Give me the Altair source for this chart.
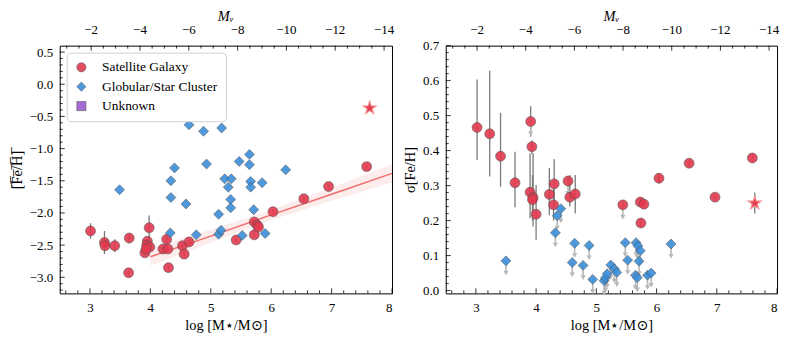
import altair as alt
import pandas as pd
import numpy as np

FONT = "Liberation Serif, Times New Roman, DejaVu Serif, serif"
RED = "#e3394e"
BLUE = "#3b8fdb"
PURPLE = "#9a5bd0"
EDGE = "#4d4d4d"
ERRC = "#7a7a7a"
ARROWC = "#b8b8b8"
STAR_PATH = ("M0,-1L0.2245,-0.309L0.951,-0.309L0.363,0.118L0.588,0.809L0,0.382"
             "L-0.588,0.809L-0.363,0.118L-0.951,-0.309L-0.2245,-0.309Z")

TYPES = ["Satellite Galaxy", "Globular/Star Cluster", "Unknown"]

# ---------------- left panel: mean [Fe/H] ----------------
sat_logm_L = [3.01, 3.24, 3.25, 3.41, 3.65, 3.64, 3.98, 3.95, 3.94, 3.99, 3.91, 3.93,
              4.27, 4.21, 4.29, 4.30, 4.53, 4.56, 4.64, 5.42, 5.72, 5.72, 5.77, 5.79,
              6.03, 6.54, 6.95, 7.58]
sat_feh_L = [-2.28, -2.46, -2.51, -2.51, -2.39, -2.93, -2.23, -2.44, -2.50, -2.53, -2.62, -2.56,
             -2.41, -2.56, -2.56, -2.85, -2.51, -2.64, -2.45, -2.42, -2.14, -2.34, -2.19, -2.22,
             -1.98, -1.78, -1.59, -1.28]
sat_err_L = [0.12, 0.18, 0.04, 0.10, 0.08, 0.04, 0.19, 0.04, 0.04, 0.04, 0.04, 0.04,
             0.06, 0.04, 0.04, 0.04, 0.04, 0.04, 0.04, 0.03, 0.03, 0.03, 0.03, 0.03,
             0.03, 0.03, 0.03, 0.03]
gc_logm_L = [3.49, 4.33, 4.34, 4.34, 4.40, 4.59, 4.64, 4.76, 4.88, 4.93, 5.13, 5.13,
             5.17, 5.18, 5.23, 5.29, 5.33, 5.33, 5.34, 5.47, 5.52, 5.64, 5.64, 5.66,
             5.66, 5.71, 5.85, 5.90, 6.24]
gc_feh_L = [-1.64, -2.31, -1.50, -1.76, -1.30, -1.86, -0.63, -2.34, -0.73, -1.24, -2.02, -2.33,
            -2.27, -0.68, -1.47, -1.60, -1.79, -1.92, -1.47, -1.20, -2.35, -1.09, -1.25, -1.51,
            -1.60, -1.95, -1.53, -2.32, -1.33]
star_logm_L = [7.63]
star_feh_L = [-0.37]

fit_x = [4.0, 5.0, 6.0, 7.0, 8.0]
fit_y = [-2.68, -2.36, -2.03, -1.71, -1.385]
fit_lo = [-2.82, -2.46, -2.11, -1.81, -1.525]
fit_hi = [-2.54, -2.26, -1.95, -1.61, -1.245]

# ---------------- right panel: sigma [Fe/H] ----------------
sat_logm_R = [3.02, 3.23, 3.41, 3.65, 3.91, 3.93, 3.90, 3.95, 3.94, 4.00, 4.22, 4.30,
              4.29, 4.53, 4.56, 4.65, 5.44, 5.73, 5.79, 5.74, 6.04, 6.54, 6.97, 7.59]
sat_sig_R = [0.466, 0.448, 0.384, 0.308, 0.483, 0.411, 0.281, 0.266, 0.260, 0.218, 0.275, 0.305,
             0.245, 0.313, 0.267, 0.276, 0.245, 0.253, 0.247, 0.193, 0.321, 0.364, 0.267, 0.379]
sat_lo_R = [0.373, 0.326, 0.297, 0.238, 0.440, 0.390, 0.207, 0.183, 0.200, 0.145, 0.215, 0.240,
            0.200, 0.300, 0.240, 0.220, 0.235, 0.240, 0.235, 0.180, 0.306, 0.354, 0.260, 0.368]
sat_hi_R = [0.603, 0.628, 0.508, 0.397, 0.527, 0.430, 0.392, 0.392, 0.330, 0.302, 0.350, 0.375,
            0.290, 0.325, 0.330, 0.330, 0.255, 0.265, 0.260, 0.205, 0.336, 0.374, 0.275, 0.390]
sat_limit_R = [False, False, False, False, True, False, False, False, False, False, False, False,
               False, True, False, False, True, False, False, False, False, False, False, False]
gc_logm_R = [3.50, 4.32, 4.35, 4.41, 4.60, 4.64, 4.78, 4.88, 4.94, 5.13, 5.15, 5.18, 5.24,
             5.30, 5.34, 5.48, 5.52, 5.65, 5.66, 5.68, 5.69, 5.71, 5.73, 5.85, 5.91, 6.24]
gc_sig_R = [0.085, 0.165, 0.214, 0.234, 0.080, 0.135, 0.072, 0.129, 0.032, 0.028, 0.036, 0.048,
            0.073, 0.062, 0.052, 0.137, 0.087, 0.044, 0.137, 0.037, 0.128, 0.084, 0.114, 0.044,
            0.050, 0.133]
star_logm_R = [7.63]
star_sig_R = [0.25]
star_lo_R = [0.22]
star_hi_R = [0.28]
ARROW_LEN = 0.035

# ---------------- axes ----------------
W1, W2, H = 334, 333, 249
X_DOM = [2.5, 8.0]
MV_ZERO_LOGM = 2.212   # log M at M_V = 0
DEX_PER_MAG = 0.404
MV_MAJOR = [-2, -4, -6, -8, -10, -12, -14]
MV_LABELS = ["−2", "−4", "−6", "−8", "−10", "−12", "−14"]
MV_MINOR = [float(v) for v in np.arange(-14.0, -0.99, 0.5) if v not in MV_MAJOR]
X_MAJOR = [3, 4, 5, 6, 7, 8]


def rng(a, b, step):
    return [round(float(v), 3) for v in np.arange(a, b + step / 2, step)]


def mv_to_logm(mv):
    return round(MV_ZERO_LOGM - DEX_PER_MAG * mv, 4)


X_MINOR = [v for v in rng(2.6, 8.0, 0.2) if abs(v - round(v)) > 1e-6]
MVT_MAJOR = [mv_to_logm(m) for m in MV_MAJOR]
MVT_MINOR = [mv_to_logm(m) for m in MV_MINOR]

X_AXIS = alt.Axis(values=X_MAJOR, ticks=False, domain=False, grid=False,
                  title="log [M⋆/M⊙]", labelPadding=8, titlePadding=4, format="d")


def y_axis(values, title):
    return alt.Axis(values=values, ticks=False, domain=False, grid=False, title=title,
                    labelPadding=7, titlePadding=5, format=".1f")


class Panel:
    def __init__(self, ydom, yaxis):
        self.ydom = ydom
        self.yaxis = yaxis

    def X(self, field):
        return alt.X(field, scale=alt.Scale(domain=X_DOM, nice=False, zero=False), axis=X_AXIS)

    def Y(self, field):
        return alt.Y(field, scale=alt.Scale(domain=self.ydom, nice=False, zero=False),
                     axis=self.yaxis)


def tick_layers(p, y_major, y_minor):
    layers = []
    for vals, size, where in [(X_MAJOR, 5, "bottom"), (X_MINOR, 3, "bottom"),
                              (MVT_MAJOR, 5, "top"), (MVT_MINOR, 3, "top")]:
        d = pd.DataFrame({"t": vals, "edge": p.ydom[0] if where == "bottom" else p.ydom[1]})
        layers.append(alt.Chart(d).mark_rule(color="black", strokeWidth=0.8).encode(
            x=p.X("t:Q"), y=p.Y("edge:Q"),
            y2=alt.value(H - size if where == "bottom" else size)))
    for vals, size in [(y_major, 5), (y_minor, 3)]:
        d = pd.DataFrame({"t": vals, "edge": X_DOM[0]})
        layers.append(alt.Chart(d).mark_rule(color="black", strokeWidth=0.8).encode(
            x=p.X("edge:Q"), x2=alt.value(size), y=p.Y("t:Q")))
    # top (M_V) tick labels
    d = pd.DataFrame({"t": MVT_MAJOR, "lab": MV_LABELS, "edge": p.ydom[1]})
    layers.append(alt.Chart(d).mark_text(font=FONT, fontSize=13, dy=-16, color="black",
                                         baseline="middle").encode(
        x=p.X("t:Q"), y=p.Y("edge:Q"), text="lab:N"))
    return layers


def pts_frame(logm, val, typ):
    return pd.DataFrame({"logm": logm, "val": val, "type": typ})


def point_layer(p, df, with_legend):
    if with_legend:
        lg = alt.Legend(title=None, orient="top-left", offset=7, padding=8,
                        fillColor="white", strokeColor="#d0d0d0", cornerRadius=4,
                        labelFont=FONT, labelFontSize=13.5, labelColor="black",
                        symbolSize=85, symbolStrokeColor=EDGE, symbolStrokeWidth=0.6,
                        labelOffset=14, rowPadding=4.5)
    else:
        lg = None
    return alt.Chart(df).mark_point(filled=True, size=100, stroke=EDGE, strokeWidth=0.6,
                                    opacity=0.9).encode(
        x=p.X("logm:Q"), y=p.Y("val:Q"),
        color=alt.Color("type:N", scale=alt.Scale(domain=TYPES, range=[RED, BLUE, PURPLE]),
                        legend=lg),
        shape=alt.Shape("type:N", scale=alt.Scale(domain=TYPES,
                                                  range=["circle", "diamond", "square"]),
                        legend=lg))


def star_layer(p, logm, val):
    return alt.Chart(pd.DataFrame({"logm": logm, "val": val})).mark_point(
        filled=True, shape=STAR_PATH, size=180, color=RED, stroke="#f58a8a", strokeWidth=1.2,
        opacity=1
    ).encode(x=p.X("logm:Q"), y=p.Y("val:Q"))


MV_TITLE = alt.TitleParams("Mᵥ", font=FONT, fontSize=14.5, fontStyle="italic",
                           fontWeight="normal", anchor="middle", offset=-1, color="black")

# ---------------- left panel ----------------
YL_DOM = [-3.25, 0.6]
YL_MAJOR = rng(-3.0, 0.5, 0.5)
YL_MINOR = [v for v in rng(-3.2, 0.5, 0.1) if abs(v * 2 - round(v * 2)) > 1e-6]
pL = Panel(YL_DOM, y_axis(YL_MAJOR, "[̅F̅e̅/̅H̅]̅"))
dfL = pd.concat([pts_frame(sat_logm_L, sat_feh_L, TYPES[0]),
                 pts_frame(gc_logm_L, gc_feh_L, TYPES[1])], ignore_index=True)
errL = pd.DataFrame({"logm": sat_logm_L,
                     "lo": [v - e for v, e in zip(sat_feh_L, sat_err_L)],
                     "hi": [v + e for v, e in zip(sat_feh_L, sat_err_L)]})
fitL = pd.DataFrame({"logm": fit_x, "val": fit_y, "lo": fit_lo, "hi": fit_hi})

bandL = alt.Chart(fitL).mark_area(color="#f7b5b5", opacity=0.25).encode(
    x=pL.X("logm:Q"), y=pL.Y("lo:Q"), y2="hi:Q")
lineL = alt.Chart(fitL).mark_line(color="#f26d6d", strokeWidth=1.5).encode(
    x=pL.X("logm:Q"), y=pL.Y("val:Q"))
ebL = alt.Chart(errL).mark_rule(color=ERRC, strokeWidth=1.3).encode(
    x=pL.X("logm:Q"), y=pL.Y("lo:Q"), y2="hi:Q")

left = alt.layer(
    bandL, lineL, ebL,
    point_layer(pL, dfL, True),
    star_layer(pL, star_logm_L, star_feh_L),
    *tick_layers(pL, YL_MAJOR, YL_MINOR),
).properties(width=W1, height=H, title=MV_TITLE)

# ---------------- right panel ----------------
YR_DOM = [-0.008, 0.7]
YR_MAJOR = rng(0.0, 0.7, 0.1)
YR_MINOR = [v for v in rng(0.0, 0.7, 0.02) if abs(v * 10 - round(v * 10)) > 1e-6]
pR = Panel(YR_DOM, y_axis(YR_MAJOR, "σ[Fe/H]"))
dfR = pd.concat([pts_frame(sat_logm_R, sat_sig_R, TYPES[0]),
                 pts_frame(gc_logm_R, gc_sig_R, TYPES[1])], ignore_index=True)
errR = pd.DataFrame({"logm": sat_logm_R + star_logm_R, "lo": sat_lo_R + star_lo_R,
                     "hi": sat_hi_R + star_hi_R})
lim_logm = gc_logm_R + [m for m, f in zip(sat_logm_R, sat_limit_R) if f]
lim_val = gc_sig_R + [s for s, f in zip(sat_sig_R, sat_limit_R) if f]
arrR = pd.DataFrame({"logm": lim_logm, "val": lim_val,
                     "end": [v - ARROW_LEN for v in lim_val]})

ebR = alt.Chart(errR).mark_rule(color=ERRC, strokeWidth=1.3).encode(
    x=pR.X("logm:Q"), y=pR.Y("lo:Q"), y2="hi:Q")
arrShaftR = alt.Chart(arrR).mark_rule(color=ARROWC, strokeWidth=1.6).encode(
    x=pR.X("logm:Q"), y=pR.Y("val:Q"), y2="end:Q")
arrHeadR = alt.Chart(arrR).mark_point(shape="triangle-down", filled=True, size=28,
                                      color=ARROWC, opacity=1).encode(
    x=pR.X("logm:Q"), y=pR.Y("end:Q"))

right = alt.layer(
    ebR, arrShaftR, arrHeadR,
    point_layer(pR, dfR, False),
    star_layer(pR, star_logm_R, star_sig_R),
    *tick_layers(pR, YR_MAJOR, YR_MINOR),
).properties(width=W2, height=H, title=MV_TITLE)

chart = alt.hconcat(left, right, spacing=6).resolve_scale(
    color="independent", shape="independent"
).properties(
    padding={"left": 0, "top": 0, "right": 5, "bottom": 5}
).configure_view(
    stroke="black", strokeWidth=1
).configure_axis(
    labelFont=FONT, titleFont=FONT, labelFontSize=13, titleFontSize=14.5,
    labelColor="black", titleColor="black", titleFontWeight="normal"
)

chart.save("out.html", embed_options={"renderer": "svg", "actions": False})
